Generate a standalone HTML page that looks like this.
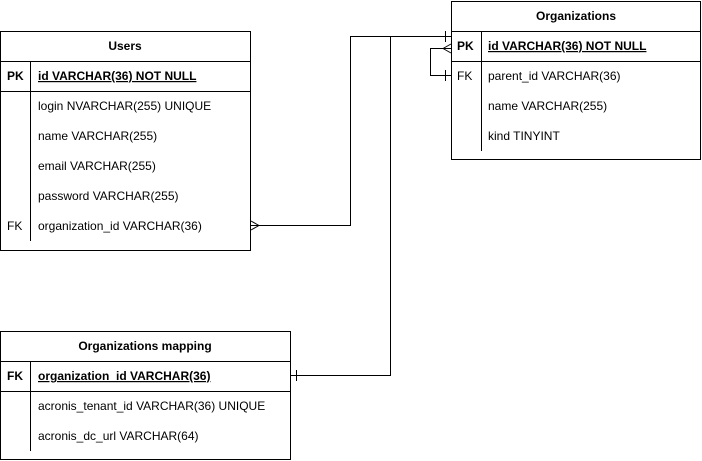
<!DOCTYPE html>
<html><head><style>body{margin:0;background:#fff}svg{display:block}text{font-family:"Liberation Sans",Arial,sans-serif;font-size:12px;fill:#000}</style></head><body>
<svg width="702" height="461" viewBox="0 0 702 461" xmlns="http://www.w3.org/2000/svg">
<g fill="none" stroke="#000" stroke-width="1">
<!-- Users -->
<rect x="0.5" y="31.5" width="250" height="219"/>
<line x1="0" y1="61.5" x2="250" y2="61.5"/>
<line x1="0" y1="91.5" x2="250" y2="91.5"/>
<line x1="30.5" y1="61" x2="30.5" y2="241"/>
<!-- Organizations -->
<rect x="451.5" y="1.5" width="249" height="158"/>
<line x1="451" y1="31.5" x2="701" y2="31.5"/>
<line x1="451" y1="61.5" x2="701" y2="61.5"/>
<line x1="481.5" y1="31" x2="481.5" y2="151"/>
<!-- Mapping -->
<rect x="0.5" y="331.5" width="290" height="128"/>
<line x1="0" y1="361.5" x2="290" y2="361.5"/>
<line x1="0" y1="391.5" x2="290" y2="391.5"/>
<line x1="30.5" y1="361" x2="30.5" y2="451"/>
<!-- connectors -->
<polyline points="251,225.5 350.5,225.5 350.5,36.5 451,36.5"/>
<line x1="445.5" y1="31" x2="445.5" y2="42"/>
<line x1="251" y1="221" x2="259" y2="225.5"/>
<line x1="251" y1="230" x2="259" y2="225.5"/>
<polyline points="291,375.5 390.5,375.5 390.5,36.5"/>
<line x1="296.5" y1="370" x2="296.5" y2="381"/>
<polyline points="451,48.5 430.5,48.5 430.5,75.5 451,75.5"/>
<line x1="445.5" y1="70" x2="445.5" y2="81"/>
<line x1="443" y1="48.5" x2="451" y2="44"/>
<line x1="443" y1="48.5" x2="451" y2="53"/>
</g>
<!-- Users text -->
<text x="125" y="50" text-anchor="middle" font-weight="bold">Users</text>
<text x="7" y="80" font-weight="bold">PK</text>
<text x="38" y="80" font-weight="bold" text-decoration="underline">id VARCHAR(36) NOT NULL</text>
<text x="38" y="110">login NVARCHAR(255) UNIQUE</text>
<text x="38" y="140">name VARCHAR(255)</text>
<text x="38" y="170">email VARCHAR(255)</text>
<text x="38" y="200">password VARCHAR(255)</text>
<text x="7" y="230">FK</text>
<text x="38" y="230">organization_id VARCHAR(36)</text>
<!-- Organizations text -->
<text x="576" y="20" text-anchor="middle" font-weight="bold">Organizations</text>
<text x="457" y="50" font-weight="bold">PK</text>
<text x="488" y="50" font-weight="bold" text-decoration="underline">id VARCHAR(36) NOT NULL</text>
<text x="457" y="80">FK</text>
<text x="488" y="80">parent_id VARCHAR(36)</text>
<text x="488" y="110">name VARCHAR(255)</text>
<text x="488" y="140">kind TINYINT</text>
<!-- Mapping text -->
<text x="145" y="350" text-anchor="middle" font-weight="bold">Organizations mapping</text>
<text x="7" y="380" font-weight="bold">FK</text>
<text x="38" y="380" font-weight="bold" text-decoration="underline">organization_id VARCHAR(36)</text>
<text x="38" y="410">acronis_tenant_id VARCHAR(36) UNIQUE</text>
<text x="38" y="440">acronis_dc_url VARCHAR(64)</text>
</svg>
</body></html>
